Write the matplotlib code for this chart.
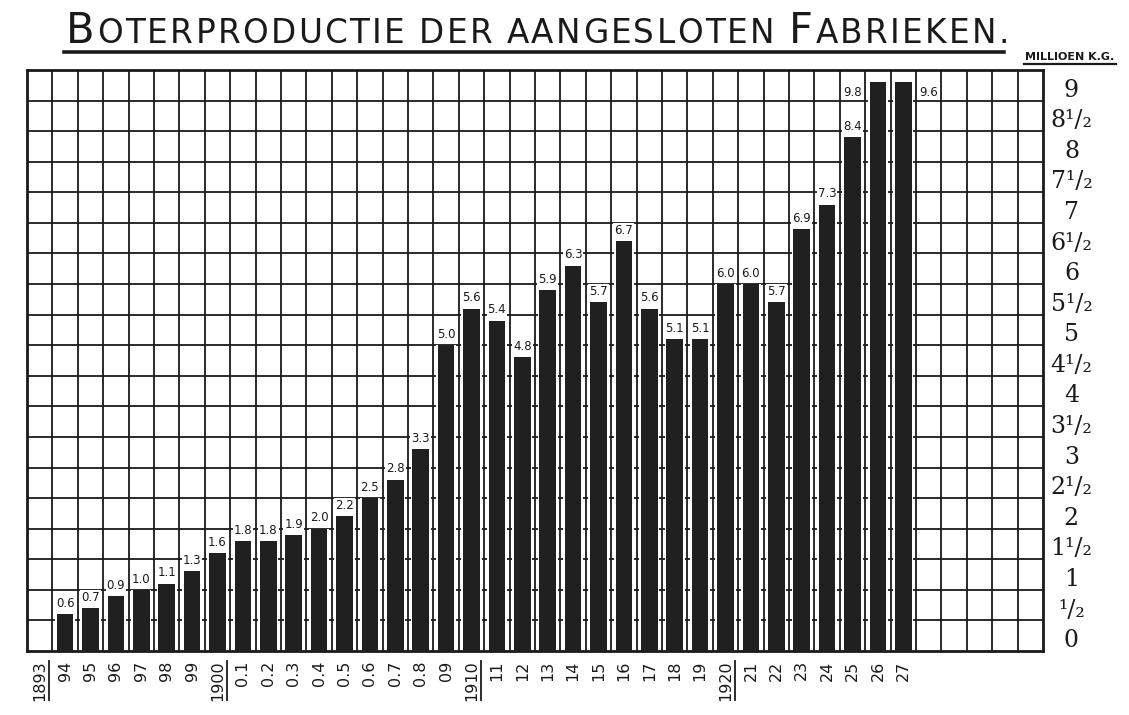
import numpy as np
import matplotlib
matplotlib.use("Agg")
import matplotlib.pyplot as plt
from matplotlib.lines import Line2D
from matplotlib.transforms import IdentityTransform

# data (million kg butter, per year)
bar_years = list(range(1894, 1928))
production = [0.6, 0.7, 0.9, 1.0, 1.1, 1.3,
              1.6, 1.8, 1.8, 1.9, 2.0, 2.2, 2.5, 2.8, 3.3, 5.0,
              5.6, 5.4, 4.8, 5.9, 6.3, 5.7, 6.7, 5.6, 5.1, 5.1,
              6.0, 6.0, 5.7, 6.9, 7.3, 8.4, 9.8, 9.6]
year_labels = ["1893", "94", "95", "96", "97", "98", "99",
               "1900", "0.1", "0.2", "0.3", "0.4", "0.5", "0.6", "0.7", "0.8", "09",
               "1910", "11", "12", "13", "14", "15", "16", "17", "18", "19",
               "1920", "21", "22", "23", "24", "25", "26", "27"]
underlined_labels = ["1893", "1900", "1910", "1920"]
y_labels = ["0", "¹/₂", "1", "1¹/₂", "2", "2¹/₂", "3", "3¹/₂", "4", "4¹/₂",
            "5", "5¹/₂", "6", "6¹/₂", "7", "7¹/₂", "8", "8¹/₂", "9"]
title = "BOTERPRODUCTIE DER AANGESLOTEN FABRIEKEN."
unit = "MILLIOEN K.G."

n_cols = 40
y_max = 9.5
bar_cap = 9.3          # bars that run off the sheet stop just below the top
label_shift = {1926: -1, 1927: 1}   # labels put beside the clipped bars

W, H = 1129, 715
ink = "#1a1a1a"

fig = plt.figure(figsize=(W / 100, H / 100), dpi=100)
fig.patch.set_facecolor("white")
ax = fig.add_axes([27 / W, 1 - 651 / H, (1043 - 27) / W, (651 - 70) / H])
ax.set_xlim(0, n_cols)
ax.set_ylim(0, y_max)
ax.set_xticks([])
ax.set_yticks([])
for s in ax.spines.values():
    s.set_linewidth(2.0)
    s.set_color(ink)

# squared paper
ax.vlines(np.arange(1, n_cols), 0, y_max, color=ink, lw=1.3, zorder=1)
ax.hlines(np.arange(0.5, y_max, 0.5), 0, n_cols, color=ink, lw=1.3, zorder=1)

x = np.array(bar_years) - 1893 + 0.5
shown = np.minimum(production, bar_cap)
ax.bar(x, shown, width=0.8, color="white", zorder=2)
ax.bar(x, shown, width=0.66, color="#202020", zorder=3)

for yr, xi, v, h in zip(bar_years, x, production, shown):
    if yr in label_shift:
        tx, ty = xi + label_shift[yr], 9.02
    else:
        tx, ty = xi, h + 0.07
    ax.text(tx, ty, f"{v:.1f}", ha="center", va="bottom", fontsize=8.5,
            color=ink, zorder=4,
            bbox=dict(fc="white", ec="none", pad=0.8))

# value scale on the right, written in the middle of each row
for k, lab in enumerate(y_labels):
    ax.text(1.028, k / 2 + 0.17, lab, transform=ax.get_yaxis_transform(),
            ha="center", va="center", fontsize=17, family="DejaVu Serif",
            color=ink)

# year labels under the columns
xlabs = []
for i, lab in enumerate(year_labels):
    t = ax.text(i + 0.5, -0.016, lab, transform=ax.get_xaxis_transform(),
                rotation=90, ha="center", va="top", fontsize=11.5, color=ink)
    xlabs.append(t)

fig.canvas.draw()
r = fig.canvas.get_renderer()
px = IdentityTransform()

for t in xlabs:
    if t.get_text() in underlined_labels:
        bb = t.get_window_extent(r)
        fig.add_artist(Line2D([bb.x1 + 1.5, bb.x1 + 1.5], [bb.y0 + 1, bb.y1 - 1],
                              transform=px, color=ink, lw=1.3))

# title in small capitals, spread over the width of the sheet
small, big = 23.5, 30
baseline = H - 43
x0, x1 = 66, 1009
chars = []
for j, ch in enumerate(title):
    size = big if (j == 0 or title[j - 1] == " ") and ch in "BF" else small
    t = fig.text(0, baseline, ch, transform=px, fontsize=size,
                 ha="left", va="baseline", color=ink)
    chars.append(t)
fig.canvas.draw()
widths = []
for t in chars:
    if t.get_text() == " ":
        widths.append(0.3 * small * 100 / 72)
    else:
        widths.append(t.get_window_extent(r).width)
track = (x1 - x0 - sum(widths)) / (len(chars) - 1)
pos = x0
for t, w in zip(chars, widths):
    t.set_x(pos)
    pos += w + track
fig.add_artist(Line2D([64, 1004], [H - 52, H - 52], transform=px,
                      color=ink, lw=2.6))

u = fig.text(1070, H - 60, unit, transform=px, fontsize=8, weight="bold",
             ha="center", va="baseline", color=ink)
fig.canvas.draw()
ub = u.get_window_extent(r)
fig.add_artist(Line2D([ub.x0 - 1, ub.x1 + 1], [H - 64, H - 64], transform=px,
                      color=ink, lw=1.6))

fig.savefig("out.png", dpi=100, facecolor="white")
